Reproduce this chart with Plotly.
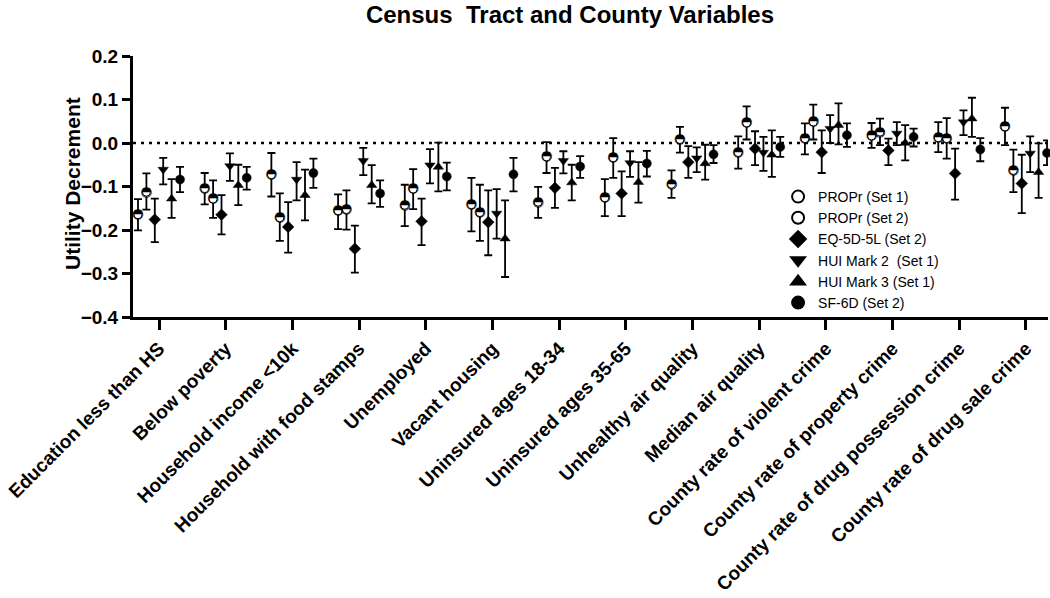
import plotly.graph_objects as go

categories = ["Education less than HS", "Below poverty", "Household income <10k",
              "Household with food stamps", "Unemployed", "Vacant housing",
              "Uninsured ages 18-34", "Uninsured ages 35-65", "Unhealthy air quality",
              "Median air quality", "County rate of violent crime",
              "County rate of property crime", "County rate of drug possession crime",
              "County rate of drug sale crime"]

propr1_mean = [-0.165, -0.105, -0.073, -0.156, -0.143, -0.142, -0.136, -0.126, -0.095, -0.022, 0.010, 0.016, 0.012, 0.037]
propr1_lo = [-0.201, -0.141, -0.123, -0.198, -0.191, -0.203, -0.172, -0.168, -0.126, -0.059, -0.026, -0.011, -0.021, -0.005]
propr1_hi = [-0.129, -0.069, -0.023, -0.118, -0.096, -0.080, -0.101, -0.083, -0.063, 0.015, 0.045, 0.046, 0.048, 0.081]

propr2_mean = [-0.113, -0.129, -0.172, -0.153, -0.106, -0.160, -0.032, -0.034, 0.008, 0.046, 0.048, 0.025, 0.010, -0.063]
propr2_lo = [-0.153, -0.172, -0.225, -0.199, -0.152, -0.225, -0.069, -0.080, -0.022, 0.008, 0.008, -0.005, -0.036, -0.113]
propr2_hi = [-0.070, -0.086, -0.116, -0.109, -0.060, -0.096, 0.002, 0.011, 0.037, 0.084, 0.088, 0.056, 0.057, -0.015]

eq5d_mean = [-0.176, -0.165, -0.193, -0.243, -0.180, -0.182, -0.103, -0.116, -0.044, -0.013, -0.021, -0.017, -0.070, -0.093]
eq5d_lo = [-0.228, -0.210, -0.252, -0.298, -0.235, -0.258, -0.149, -0.168, -0.080, -0.051, -0.069, -0.051, -0.130, -0.161]
eq5d_hi = [-0.128, -0.120, -0.136, -0.190, -0.128, -0.109, -0.057, -0.065, -0.007, 0.027, 0.029, 0.010, -0.013, -0.027]

hui2_mean = [-0.061, -0.053, -0.084, -0.041, -0.051, -0.162, -0.041, -0.046, -0.035, -0.022, 0.033, 0.022, 0.048, -0.024]
hui2_lo = [-0.095, -0.087, -0.132, -0.074, -0.093, -0.220, -0.070, -0.078, -0.067, -0.064, 0.000, -0.005, 0.018, -0.067]
hui2_hi = [-0.034, -0.024, -0.044, -0.011, -0.014, -0.106, -0.019, -0.019, -0.010, 0.014, 0.064, 0.048, 0.075, 0.015]

hui3_mean = [-0.128, -0.097, -0.120, -0.097, -0.055, -0.220, -0.091, -0.090, -0.047, -0.027, 0.041, 0.000, 0.056, -0.067]
hui3_lo = [-0.172, -0.143, -0.178, -0.139, -0.111, -0.308, -0.132, -0.137, -0.084, -0.078, -0.003, -0.040, 0.014, -0.126]
hui3_hi = [-0.083, -0.050, -0.061, -0.051, 0.001, -0.132, -0.050, -0.044, -0.004, 0.029, 0.091, 0.041, 0.104, -0.001]

sf6d_mean = [-0.084, -0.080, -0.069, -0.116, -0.077, -0.072, -0.054, -0.047, -0.026, -0.009, 0.018, 0.014, -0.015, -0.023]
sf6d_lo = [-0.113, -0.107, -0.103, -0.147, -0.109, -0.111, -0.080, -0.077, -0.046, -0.032, -0.009, -0.008, -0.042, -0.051]
sf6d_hi = [-0.055, -0.055, -0.036, -0.086, -0.045, -0.034, -0.030, -0.018, -0.005, 0.014, 0.045, 0.033, 0.011, 0.006]

series_names = ["PROPr (Set 1)", "PROPr (Set 2)", "EQ-5D-5L (Set 2)",
                "HUI Mark 2  (Set 1)", "HUI Mark 3 (Set 1)", "SF-6D (Set 2)"]

series = [
    (series_names[0], propr1_mean, propr1_lo, propr1_hi, "half"),
    (series_names[1], propr2_mean, propr2_lo, propr2_hi, "half"),
    (series_names[2], eq5d_mean, eq5d_lo, eq5d_hi, "diamond"),
    (series_names[3], hui2_mean, hui2_lo, hui2_hi, "triangle-down"),
    (series_names[4], hui3_mean, hui3_lo, hui3_hi, "triangle-up"),
    (series_names[5], sf6d_mean, sf6d_lo, sf6d_hi, "circle"),
]

FONT = "Liberation Sans, Arial, sans-serif"
step = 0.126
n = len(series)
fig = go.Figure()

for k, (name, m, lo, hi, sym) in enumerate(series):
    off = (k - (n - 1) / 2) * step
    xs = [i + off for i in range(len(categories))]
    err = dict(type="data", symmetric=False,
               array=[h - v for h, v in zip(hi, m)],
               arrayminus=[v - l for v, l in zip(m, lo)],
               color="black", thickness=1.8, width=4)
    if sym == "half":
        fig.add_trace(go.Scatter(
            x=xs, y=m, mode="markers", name=name, error_y=err, cliponaxis=False,
            marker=dict(symbol="circle", size=8, color="white",
                        line=dict(color="black", width=1))))
        fig.add_trace(go.Scatter(
            x=xs, y=m, mode="text", text=["\u25d3"] * len(m), showlegend=False,
            hoverinfo="skip", textposition="middle center", cliponaxis=False,
            textfont=dict(family="DejaVu Sans", size=13.5, color="black")))
    else:
        fig.add_trace(go.Scatter(
            x=xs, y=m, mode="markers", name=name, error_y=err, cliponaxis=False,
            marker=dict(symbol=sym, size=9, color="black",
                        line=dict(color="black", width=0.5))))

fig.add_shape(type="line", xref="paper", yref="y", x0=0, x1=1, y0=0, y1=0,
              line=dict(color="black", width=2.5, dash="3px,5px"), layer="below")

fig.add_annotation(text="Utility Decrement", textangle=-90, showarrow=False,
                   xref="paper", yref="paper", x=(72 - 133) / 915, y=1 - (184 - 56) / 261,
                   xanchor="center", yanchor="middle",
                   font=dict(size=21, family=FONT, weight="bold", color="black"))

fig.update_layout(
    width=1050, height=598,
    margin=dict(l=133, r=2, t=56, b=281),
    paper_bgcolor="white", plot_bgcolor="white",
    font=dict(family=FONT, color="black"),
    title=dict(text="Census  Tract and County Variables", xref="container",
               x=570 / 1050, xanchor="center", y=1 - 15 / 598, yanchor="middle",
               font=dict(size=24, family=FONT, weight="bold", color="black")),
    showlegend=True,
    legend=dict(x=0.705, y=1 - 125 / 261, xanchor="left", yanchor="top",
                bgcolor="rgba(0,0,0,0)", font=dict(size=14, family=FONT, color="black"),
                tracegroupgap=0, itemsizing="constant"),
    xaxis=dict(range=[-0.39, 13.33], tickmode="array", automargin=False,
               tickvals=list(range(len(categories))), ticktext=categories,
               tickangle=-45, showgrid=False, zeroline=False,
               ticklabeloverflow="allow",
               showline=True, linecolor="black", linewidth=3,
               ticks="outside", ticklen=10, tickwidth=3, tickcolor="black",
               tickfont=dict(size=19, family=FONT, weight="bold", color="black")),
    yaxis=dict(range=[-0.4, 0.2], dtick=0.1, tick0=0, tickformat=".1f",
               automargin=False, showgrid=False, zeroline=False,
               showline=True, linecolor="black", linewidth=3,
               ticks="outside", ticklen=8, tickwidth=3, tickcolor="black",
               tickfont=dict(size=19, family=FONT, weight="bold", color="black")),
)

fig.write_html("out.html", config={"displayModeBar": False},
               post_script="document.body.style.margin='0';")
